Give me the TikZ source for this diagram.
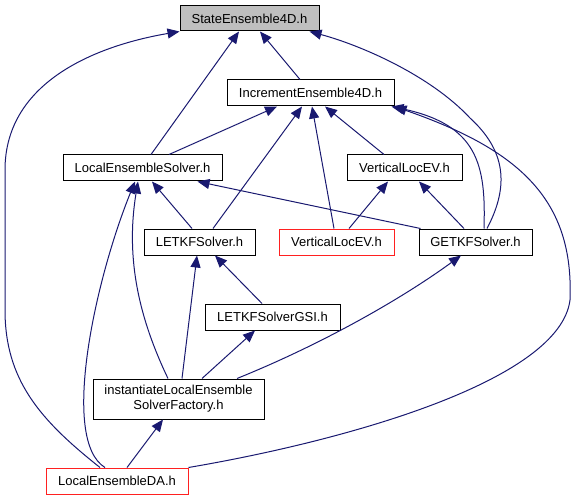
\documentclass[tikz,border=0pt]{standalone}
\usepackage{fontspec}
\setmainfont{Liberation Sans}
\usetikzlibrary{arrows.meta}
\definecolor{edgeblue}{HTML}{191970}
\definecolor{boxred}{HTML}{FF2020}
\begin{document}
\begin{tikzpicture}[x=1pt,y=-1pt,
  box/.style={draw=black,line width=1pt,inner sep=0pt,font=\fontsize{13}{15}\selectfont,align=center},
  redbox/.style={box,draw=boxred},
  dep/.style={draw=edgeblue,line width=1pt,-{Triangle[length=12pt,width=10pt]}}]
\useasboundingbox (0,0) rectangle (576,500);
\node[box,fill=gray!50,minimum width=139pt,minimum height=25pt] (state) at (249.5,18.5) {StateEnsemble4D.h};
\node[box,minimum width=167pt,minimum height=26pt] (inc) at (310.5,93) {IncrementEnsemble4D.h};
\node[box,minimum width=159pt,minimum height=26pt] (les) at (142.5,168) {LocalEnsembleSolver.h};
\node[box,minimum width=115pt,minimum height=26pt] (vle) at (404.5,168) {VerticalLocEV.h};
\node[box,minimum width=111pt,minimum height=26pt] (letkf) at (199.5,242) {LETKFSolver.h};
\node[redbox,minimum width=115pt,minimum height=26pt] (vler) at (336.5,242) {VerticalLocEV.h};
\node[box,minimum width=113pt,minimum height=26pt] (getkf) at (475.5,242) {GETKFSolver.h};
\node[box,minimum width=135pt,minimum height=26pt] (gsi) at (272.5,317) {LETKFSolverGSI.h};
\node[box,minimum width=171pt,minimum height=40pt] (inst) at (178.5,399) {instantiateLocalEnsemble\\SolverFactory.h};
\node[redbox,minimum width=142pt,minimum height=26pt] (da) at (117,481) {LocalEnsembleDA.h};
% edges
\draw[dep] ([xshift=-17pt]da.north) .. controls (40,420) and (5,380) .. (5,310) -- (5,170) .. controls (5,80) and (100,45) .. (state.south west);
\draw[dep] ([xshift=8.5pt]les.north) -- ([xshift=-10.5pt]state.south);
\draw[dep] ([xshift=-10.5pt]inc.north) -- ([xshift=10.5pt]state.south);
\draw[dep] ([xshift=11.5pt]getkf.north) .. controls (510,185) and (505,150) .. (470,118) .. controls (430,75) and (360,45) .. ([xshift=-10pt]state.south east);
\draw[dep] ([xshift=26.5pt]les.north) -- ([xshift=-33.5pt]inc.south);
\draw[dep] ([xshift=13.5pt]letkf.north) -- ([xshift=-8.5pt]inc.south);
\draw[dep] ([xshift=-2.5pt]vler.north) -- ([xshift=1.5pt]inc.south);
\draw[dep] ([xshift=-20.5pt]vle.north) -- ([xshift=14.5pt]inc.south);
\draw[dep] ([xshift=8.5pt]getkf.north) .. controls (486,165) and (478,125) .. ([xshift=-3pt]inc.south east);
\draw[dep] (da.north east) .. controls (350,440) and (560,380) .. (570,300) .. controls (574,200) and (520,150) .. (inc.south east);
\draw[dep] ([xshift=-7.5pt]letkf.north) -- ([xshift=9.5pt]les.south);
\draw[dep] ([xshift=2pt]getkf.north west) -- ([xshift=-25pt]les.south east);
\draw[dep] ([xshift=-10.5pt]inst.north) .. controls (140,320) and (125,260) .. ([xshift=-4.5pt]les.south);
\draw[dep] ([xshift=-12pt]da.north) .. controls (60,440) and (95,280) .. ([xshift=-7.5pt]les.south);
\draw[dep] ([xshift=12.5pt]vler.north) -- ([xshift=-16.5pt]vle.south);
\draw[dep] ([xshift=-11.5pt]getkf.north) -- ([xshift=14.5pt]vle.south);
\draw[dep] ([xshift=3.5pt]inst.north) -- ([xshift=-2.5pt]letkf.south);
\draw[dep] ([xshift=-10.5pt]gsi.north) -- ([xshift=15.5pt]letkf.south);
\draw[dep] ([xshift=23.5pt]inst.north) -- ([xshift=-17.5pt]gsi.south);
\draw[dep] ([xshift=58.5pt]inst.north) .. controls (320,345) and (400,300) .. ([xshift=-14.5pt]getkf.south);
\draw[dep] ([xshift=10pt]da.north) -- ([xshift=-15.5pt]inst.south);
\end{tikzpicture}
\end{document}
